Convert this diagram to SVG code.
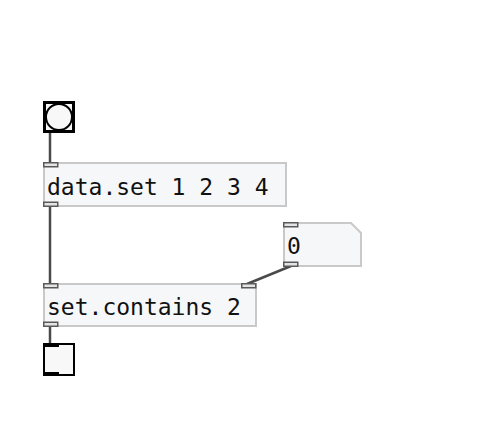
<svg xmlns="http://www.w3.org/2000/svg" width="484" height="444" viewBox="0 0 484 444">
<style>
.box{fill:#f6f7f9;stroke:#c9c9c9;stroke-width:2}
.io{fill:#e4e4e4;stroke:#5a5a5a;stroke-width:1.5}
.cord{stroke:#4a4a4a;stroke-width:2.5;fill:none}
.txt{font-family:"DejaVu Sans Mono",monospace;font-size:23px;fill:#111}
</style>
<rect width="484" height="444" fill="#ffffff"/>
<g id="connectors">
<line class="cord" x1="50" y1="133" x2="50" y2="163"/>
<line class="cord" x1="50" y1="206" x2="50" y2="284"/>
<line class="cord" x1="291" y1="266" x2="247" y2="284"/>
<line class="cord" x1="50" y1="326" x2="50" y2="344"/>
</g>
<g id="bang">
<rect x="44.5" y="102.5" width="29" height="29" fill="#f8f8f8" stroke="#000" stroke-width="3"/>
<circle cx="59" cy="117" r="13" fill="#f8f8f8" stroke="#000" stroke-width="2"/>
</g>
<g id="dataset">
<rect class="box" x="44" y="163" width="242" height="43"/>
<rect class="io" x="43.75" y="162.75" width="14" height="4"/>
<rect class="io" x="43.75" y="202.25" width="14" height="4"/>
<text class="txt" x="47" y="195">data.set 1 2 3 4</text>
</g>
<g id="number">
<path class="box" d="M284 223 H351 L361 233 V266 H284 Z"/>
<rect class="io" x="283.75" y="222.75" width="14" height="4"/>
<rect class="io" x="283.75" y="262.25" width="14" height="4"/>
<text class="txt" x="287" y="254">0</text>
</g>
<g id="setcontains">
<rect class="box" x="44" y="284" width="212" height="42"/>
<rect class="io" x="43.75" y="283.75" width="14" height="4"/>
<rect class="io" x="241.75" y="283.75" width="14" height="4"/>
<rect class="io" x="43.75" y="322.25" width="14" height="4"/>
<text class="txt" x="47" y="315">set.contains 2</text>
</g>
<g id="toggle">
<rect x="44" y="344" width="30" height="31" fill="#f8f8f8" stroke="#000" stroke-width="2"/>
<rect x="43" y="343" width="16" height="4" fill="#000"/>
<rect x="43" y="372" width="16" height="4" fill="#000"/>
</g>
</svg>
